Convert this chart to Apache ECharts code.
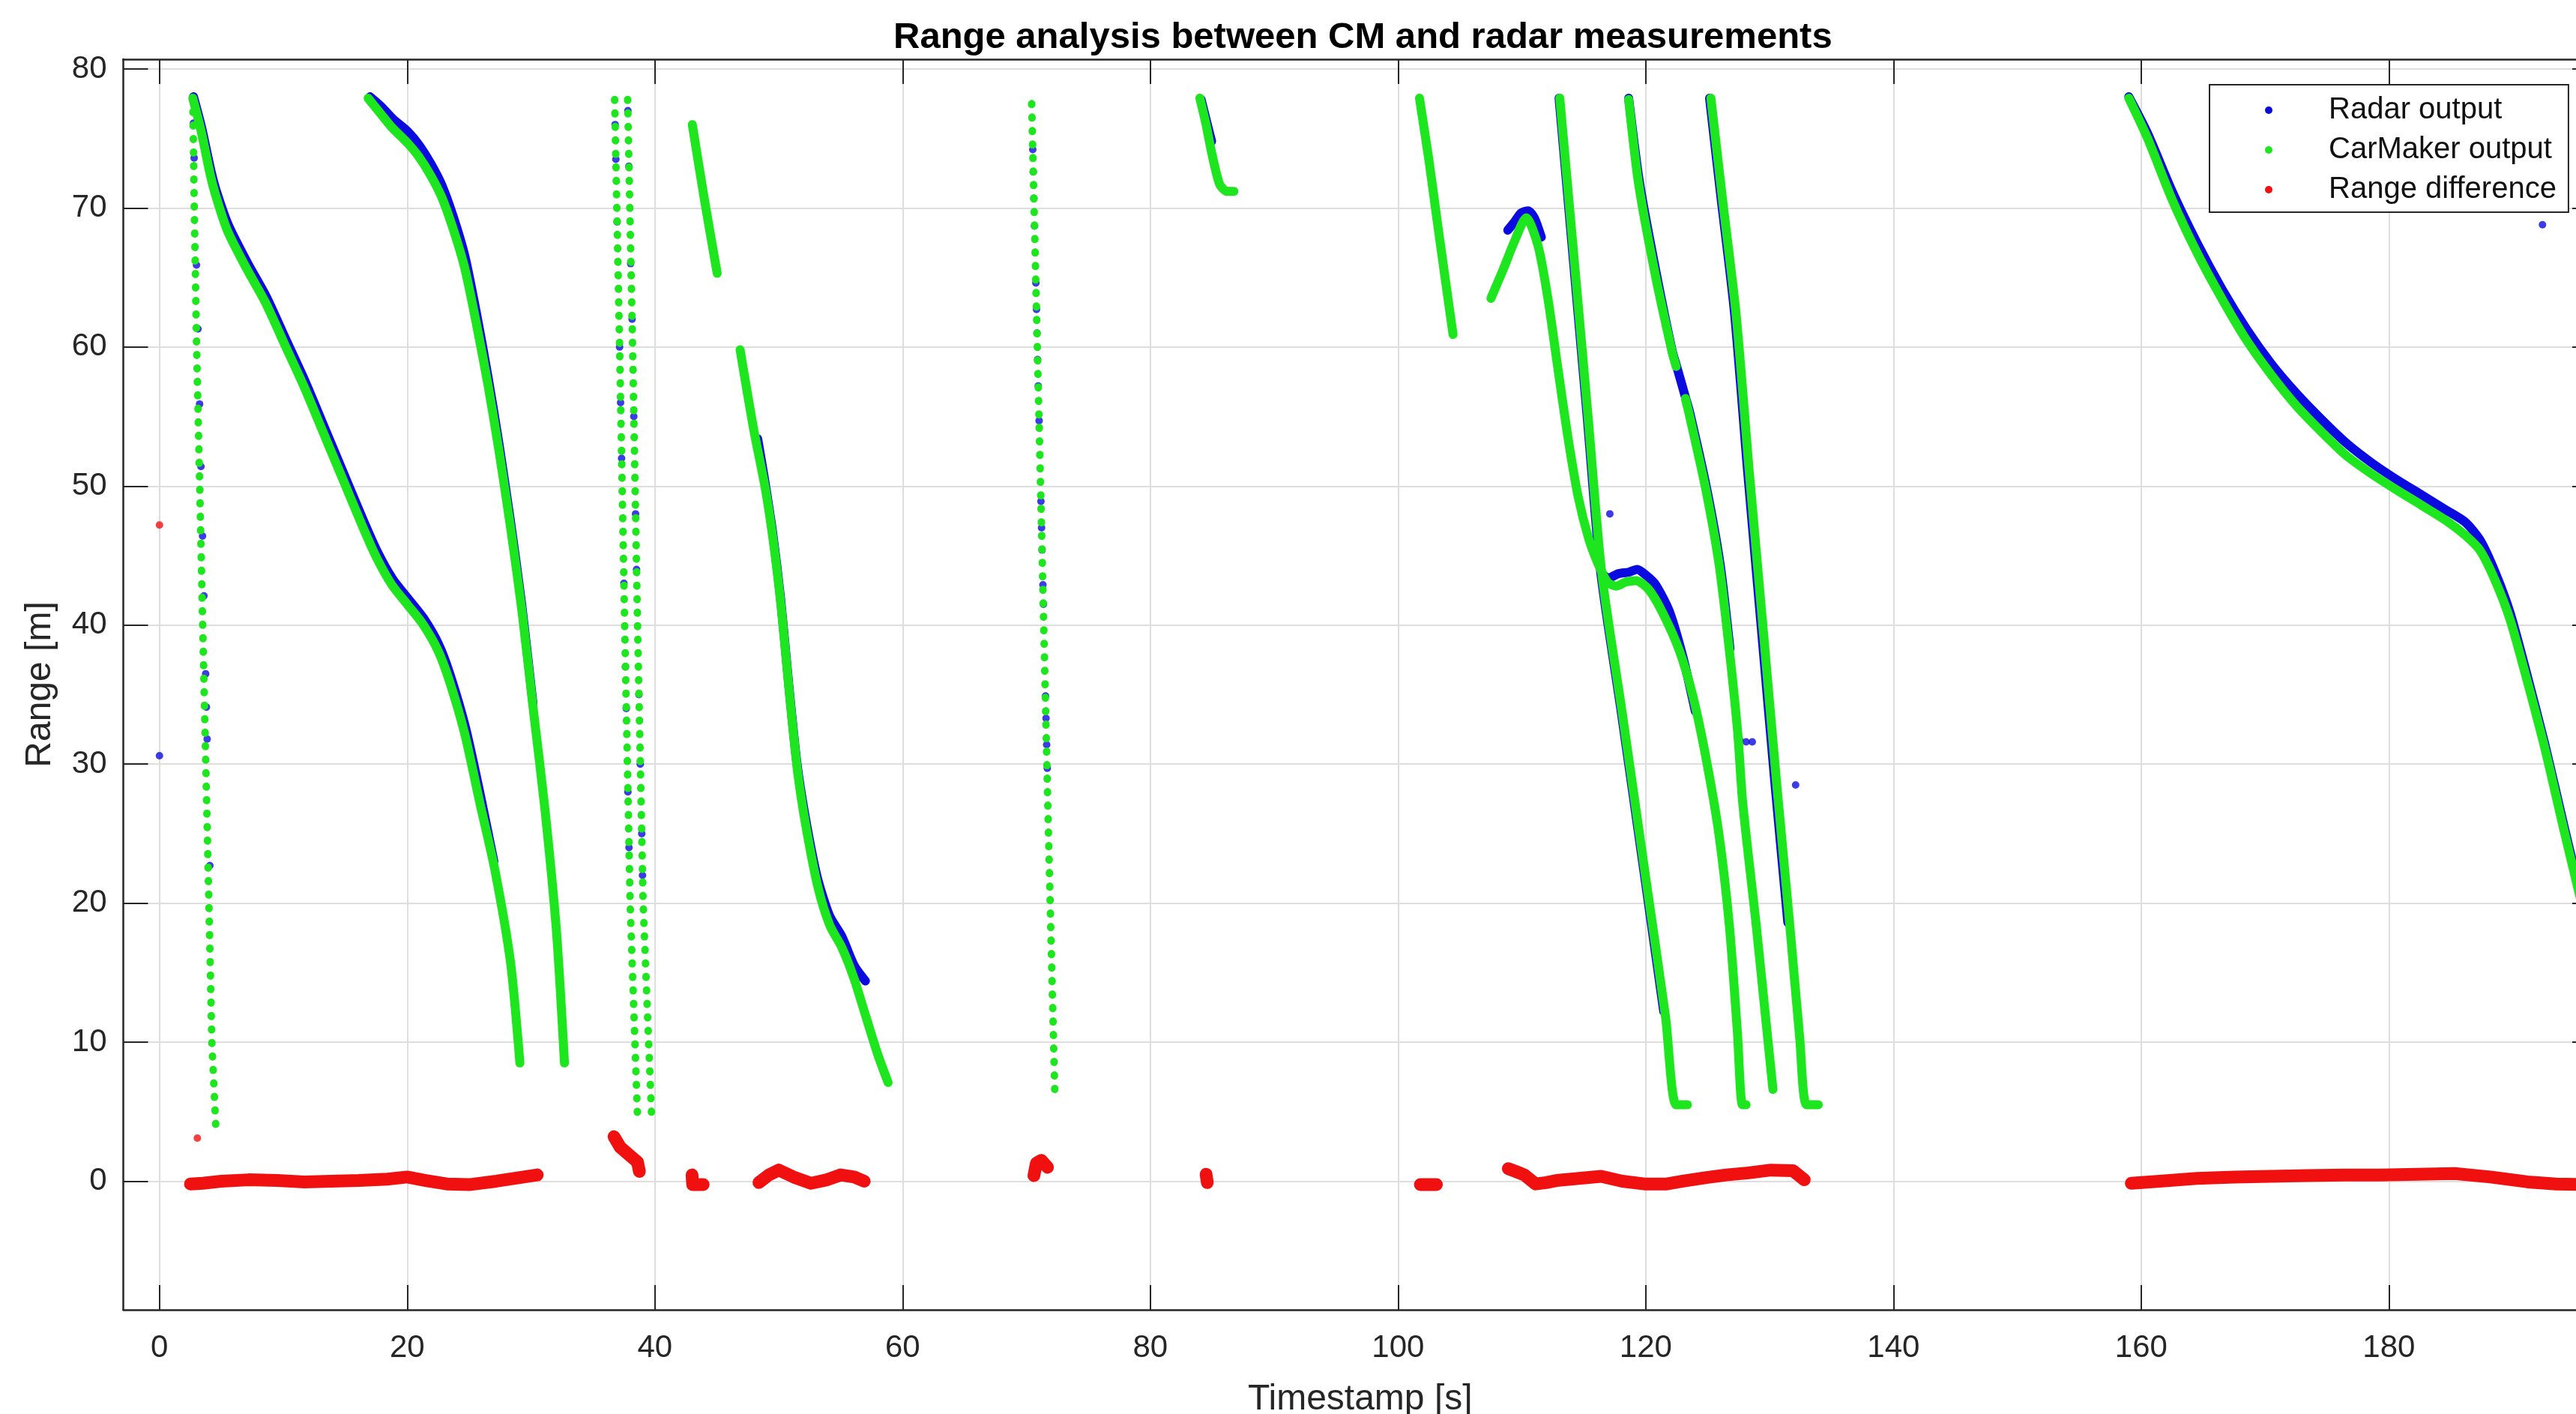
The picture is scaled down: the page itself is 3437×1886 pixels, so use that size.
<!DOCTYPE html>
<html>
<head>
<meta charset="utf-8">
<title>Range analysis between CM and radar measurements</title>
<script src="https://cdn.jsdelivr.net/npm/echarts@6/dist/echarts.min.js"></script>
<style>
  html, body { margin: 0; padding: 0; background: #fff; }
  #chart { width: 3437px; height: 1886px; }
</style>
</head>
<body>
<div id="chart"></div>
<script>
// tick labels
var xTicks = [0, 20, 40, 60, 80, 100, 120, 140, 160, 180];
var yTicks = [0, 10, 20, 30, 40, 50, 60, 70, 80];

// CarMaker output (green), one array per track, [time s, range m]
var cmDot1 = [[2.69, 77.9], [2.81, 70], [3.0, 60], [3.25, 50], [3.49, 40], [3.74, 30], [3.99, 20], [4.23, 10], [4.54, 4.1]];
var cm2 = [[2.69, 77.9], [3.35, 75.6], [4.1, 72.4], [4.54, 70.9], [5.47, 68.4], [7.0, 65.7], [8.56, 63.2], [10.1, 60.2],
  [11.65, 57.2], [13.2, 53.9], [14.75, 50.6], [16.3, 47.3], [17.5, 44.9], [18.76, 42.9], [20.0, 41.5], [21.24, 40.1],
  [22.47, 38.2], [23.4, 36.0], [24.64, 32.2], [25.87, 27.2], [27.1, 22.3], [28.35, 15.7], [29.1, 8.5]];
var cm3 = [[16.85, 77.9], [17.84, 76.8], [18.76, 75.8], [20.0, 74.7], [20.93, 73.7], [21.86, 72.4], [22.78, 70.8], [23.71, 68.5],
  [24.64, 65.7], [25.56, 61.8], [26.5, 57.4], [27.42, 52.5], [28.35, 47.0], [29.27, 41.0], [30.2, 33.8], [31.13, 26.7],
  [32.06, 17.9], [32.7, 8.5]];
var cmDot4 = [[36.75, 77.8], [37.15, 60], [37.56, 40], [38.0, 20], [38.6, 4.5]];
var cmDot5 = [[37.8, 77.8], [38.2, 60], [38.6, 40], [39.05, 20], [39.75, 4.3]];
var cm6 = [[43.02, 76.0], [44.0, 70.6], [45.03, 65.3]];
var cm7 = [[46.88, 59.8], [47.95, 54.2], [48.93, 49.75], [49.58, 45.9], [50.23, 41.0], [50.88, 34.9], [51.53, 29.4],
  [52.18, 25.6], [53.15, 21.2], [54.12, 18.4], [55.1, 16.8], [56.07, 14.6], [57.05, 11.8], [58.0, 9.1], [58.83, 7.1]];
var cmDot8 = [[70.42, 77.5], [70.8, 63], [71.17, 48.7], [71.75, 26], [72.3, 5.9]];
var cm9 = [[84.0, 77.9], [84.5, 76.0], [84.97, 73.9], [85.6, 71.7], [86.2, 71.2], [86.75, 71.2]];
var cm10 = [[101.73, 77.9], [102.5, 73.4], [103.17, 69.0], [104.44, 60.9]];
var cm11 = [[107.5, 63.5], [108.5, 65.6], [109.4, 67.6], [110.35, 69.3], [111.3, 67.3], [112.1, 63.5], [112.9, 58.5],
  [113.7, 53.6], [114.55, 49.2], [115.4, 46.2], [116.2, 44.3], [116.9, 43.1], [117.6, 42.8], [118.4, 43.1], [119.2, 43.2],
  [120.2, 42.6], [121.3, 41.0], [122.7, 38.2], [123.8, 34.9], [124.85, 30.5], [125.9, 25.0], [126.75, 18.4], [127.4, 10.7],
  [127.8, 5.5], [128.1, 5.5]];
var cmA = [[113.06, 77.9], [114.28, 65.7], [115.37, 54.7], [116.45, 43.7], [118.08, 33.8], [119.97, 22.0], [121.6, 11.8],
  [122.45, 5.5], [123.36, 5.5]];
var cmB1 = [[118.62, 77.8], [119.43, 71.7], [120.79, 65.1], [122.14, 59.6], [122.45, 58.6]];
var cmB2 = [[123.2, 56.3], [123.5, 55.2], [124.85, 49.75], [125.93, 44.3], [126.75, 38.2], [127.43, 32.2], [127.83, 27.2],
  [128.92, 18.4], [129.73, 11.3], [130.27, 6.6]];
var cmC = [[125.26, 77.9], [126.2, 70.6], [127.29, 62.4], [128.37, 50.9], [129.46, 39.9], [130.54, 28.9], [131.63, 18.4],
  [132.44, 10.2], [132.98, 5.5], [133.93, 5.5]];
var cm12 = [[159.0, 77.9], [160.52, 75.0], [162.5, 70.6], [164.5, 66.8], [166.5, 63.5], [168.5, 60.5], [170.5, 58.0],
  [172.5, 55.8], [174.55, 53.9], [176.55, 52.2], [178.56, 50.9], [180.56, 49.75], [182.57, 48.65], [184.57, 47.55],
  [186.17, 46.45], [187.37, 45.35], [188.58, 43.2], [189.78, 40.4], [190.98, 36.6], [192.6, 31.1], [194.2, 25.0], [196.5, 16.5]];

// Radar output (blue)
var radar2 = [[2.75, 78.0], [3.4, 75.8], [4.15, 72.7], [4.6, 71.2], [5.55, 68.8], [7.08, 66.1], [8.64, 63.6], [10.18, 60.6],
  [11.73, 57.6], [13.28, 54.3], [14.83, 51.0], [16.38, 47.7], [17.58, 45.3], [18.84, 43.3], [20.08, 41.9], [21.32, 40.5],
  [22.55, 38.6], [23.48, 36.4], [24.72, 32.6], [25.95, 27.6], [27.0, 23.0]];
var radar3 = [[17.0, 78.0], [17.9, 77.3], [18.85, 76.4], [20.05, 75.5], [20.98, 74.5], [21.9, 73.2], [22.82, 71.6], [23.75, 69.3],
  [24.67, 66.5], [25.58, 62.5], [26.5, 58.0], [27.4, 53.1], [28.32, 47.6], [29.23, 41.6], [30.15, 34.4]];
var radar7 = [[48.3, 53.4], [48.85, 50.5], [49.5, 46.7], [50.15, 41.9], [50.8, 35.8], [51.45, 30.2], [52.12, 26.3],
  [53.1, 21.9], [54.1, 19.1], [55.1, 17.6], [56.1, 15.5], [57.0, 14.4]];
var radar9 = [[84.1, 77.8], [84.55, 76.2], [84.95, 74.8]];
var radar11h = [[108.86, 68.4], [109.4, 69.0], [109.95, 69.65], [110.5, 69.8], [111.0, 69.3], [111.57, 67.9]];
var radar11p = [[116.45, 43.7], [117.0, 43.4], [117.8, 43.7], [118.6, 43.8], [119.3, 44.0], [120.0, 43.6], [120.8, 42.9],
  [121.9, 41.0], [123.0, 37.7], [124.0, 33.8]];
var radarA = [[113.0, 77.9], [114.2, 65.8], [115.28, 54.9], [116.35, 43.9], [117.98, 34.0], [119.85, 22.3], [121.45, 12.2]];
var radarB = [[118.62, 77.9], [119.5, 71.8], [120.85, 65.3], [122.14, 59.7], [122.5, 58.6], [123.2, 56.4], [123.55, 55.3],
  [124.9, 49.9], [126.0, 44.4], [126.8, 38.3]];
var radarC = [[125.15, 77.9], [126.08, 70.7], [127.15, 62.6], [128.22, 51.1], [129.3, 40.1], [130.38, 29.1], [131.47, 18.6]];
var radar12 = [[159.0, 78.0], [160.5, 75.4], [162.5, 71.2], [164.5, 67.5], [166.5, 64.2], [168.5, 61.3], [170.5, 58.8],
  [172.5, 56.7], [174.55, 54.8], [176.55, 53.1], [178.56, 51.7], [180.56, 50.5], [182.57, 49.4], [184.57, 48.3],
  [186.17, 47.4], [187.37, 46.1], [188.58, 43.8], [189.78, 40.9], [190.98, 37.0], [192.6, 31.4], [194.2, 25.3], [196.5, 16.8]];
var radarDots = [[0, 30.6], [117.1, 48.0], [132.1, 28.5], [192.4, 68.8], [127.6, 31.7], [128.1, 31.6], [128.6, 31.6], [127.7, 28.0],
  [2.74, 76.1], [2.80, 73.6], [2.99, 65.9], [3.11, 61.3], [3.24, 55.9], [3.35, 51.4], [3.48, 46.4], [3.59, 42.1],
  [3.73, 36.5], [3.79, 34.1], [3.85, 31.8], [4.07, 22.7],
  [36.79, 76], [36.85, 73.5], [36.95, 69], [37.15, 60], [37.23, 56], [37.31, 52], [37.5, 43], [37.62, 37], [37.69, 34],
  [37.82, 28], [37.91, 24],
  [37.82, 77], [37.9, 73], [38.04, 66], [38.16, 62], [38.3, 55], [38.44, 48], [38.52, 44], [38.71, 35], [38.82, 30],
  [38.94, 25], [39.0, 22],
  [70.51, 74.2], [70.55, 72.6], [70.6, 70.7], [70.65, 68.7], [70.76, 64.6], [70.81, 62.7], [70.85, 61.0], [70.9, 59.1],
  [70.95, 57.2], [71.02, 54.7], [71.17, 48.9], [71.22, 47.0], [71.26, 45.4], [71.33, 42.9], [71.37, 41.5], [71.54, 34.9],
  [71.58, 33.3], [71.63, 31.4], [71.68, 29.7]];

// Range difference (red)
var diff1 = [[2.5, -0.2], [3.5, -0.15], [5.0, 0.0], [7.2, 0.1], [9.5, 0.05], [11.7, -0.05], [13.9, 0.0], [16.1, 0.05],
  [18.4, 0.15], [20.0, 0.3], [21.5, 0.05], [23.2, -0.2], [25.0, -0.25], [27.2, 0.0], [29.0, 0.25], [30.5, 0.45]];
var diff2 = [[36.7, 3.2], [37.2, 2.45], [37.9, 1.9], [38.6, 1.37], [38.75, 0.7]];
var diff3 = [[43.0, 0.45], [43.05, -0.25], [43.9, -0.25]];
var diff4 = [[48.4, -0.1], [49.2, 0.45], [50.0, 0.8], [51.2, 0.3], [52.6, -0.15], [53.9, 0.1], [55.0, 0.45], [56.1, 0.3], [56.9, 0.0]];
var diff5 = [[70.6, 0.4], [70.8, 1.3], [71.2, 1.5], [71.7, 1.0]];
var diff6 = [[84.5, 0.5], [84.6, -0.1]];
var diff7 = [[101.8, -0.25], [103.1, -0.25]];
var diff8 = [[108.9, 0.9], [109.5, 0.7], [110.2, 0.45], [111.1, -0.2], [111.95, -0.1], [112.8, 0.05], [114.6, 0.2],
  [116.4, 0.35], [118.1, 0.0], [119.9, -0.2], [121.7, -0.2], [123.0, 0.0], [124.8, 0.25], [126.5, 0.45], [128.3, 0.6],
  [130.1, 0.8], [131.9, 0.75], [132.8, 0.1]];
var diff9 = [[159.2, -0.15], [161.5, 0.0], [164.5, 0.2], [167.5, 0.3], [170.4, 0.35], [173.4, 0.4], [176.4, 0.45],
  [179.3, 0.45], [182.3, 0.5], [185.3, 0.55], [188.2, 0.3], [191.2, -0.05], [193.5, -0.2], [196.5, -0.25]];
var diffDots = [[0, 47.2], [3.06, 3.1]];

var FONT = '"Liberation Sans", Arial, Helvetica, sans-serif';
var AXIS = '#262626';
var BLUE = '#0b0be0', GREEN = '#1ee61e', RED = '#f01010';
var RADAR = 'Radar output', CM = 'CarMaker output', DIFF = 'Range difference';

function track(name, data, color, width, smooth) {
  return {
    type: 'line', name: name, data: data, symbol: 'none', showSymbol: false,
    smooth: smooth ? 0.25 : false, silent: true,
    itemStyle: { color: color },
    lineStyle: { color: color, width: width, cap: 'round', join: 'round' }
  };
}
function dotted(name, data, color) {
  var s = track(name, data, color, 10, false);
  s.lineStyle.type = [1, 17];
  return s;
}
function dots(name, data, color) {
  return { type: 'scatter', name: name, data: data, symbol: 'circle', symbolSize: 10, silent: true, itemStyle: { color: color } };
}

var series = [];
// radar first, carmaker on top, as in the original plot order
[radar2, radar3, radar7, radar9, radar11h, radar11p, radarA, radarB, radarC, radar12].forEach(function (d) {
  series.push(track(RADAR, d, BLUE, 12, true));
});
[cm2, cm3, cm6, cm7, cm9, cm10, cm11, cmA, cmB1, cmB2, cmC, cm12].forEach(function (d) {
  series.push(track(CM, d, GREEN, 12, true));
});
[cmDot1, cmDot4, cmDot5, cmDot8].forEach(function (d) {
  series.push(dotted(CM, d, GREEN));
});
series.push(dots(RADAR, radarDots, BLUE));
[diff1, diff2, diff3, diff4, diff5, diff6, diff7, diff8, diff9].forEach(function (d) {
  series.push(track(DIFF, d, RED, 17, false));
});
series.push(dots(DIFF, diffDots, RED));

function axisBase(min, max, ticks, pos) {
  return {
    type: 'value', min: min, max: max, position: pos,
    axisLine: { show: true, onZero: false, lineStyle: { color: AXIS, width: 2.5 } },
    axisTick: { show: true, inside: true, length: 33, customValues: ticks, lineStyle: { color: AXIS, width: 2 } },
    axisLabel: { show: false },
    splitLine: { show: false }
  };
}

var xMain = axisBase(-2.92, 196.8, xTicks, 'bottom');
xMain.axisLabel = { show: true, customValues: xTicks, fontSize: 42, color: AXIS, fontFamily: FONT, margin: 30 };
xMain.splitLine = { show: true, lineStyle: { color: '#dedede', width: 2 } };
xMain.name = 'Timestamp [s]';
xMain.nameLocation = 'middle';
xMain.nameGap = 96;
xMain.nameTextStyle = { fontSize: 48, color: AXIS, fontFamily: FONT };

var yMain = axisBase(-9.25, 80.7, yTicks, 'left');
yMain.axisLabel = { show: true, customValues: yTicks, fontSize: 42, color: AXIS, fontFamily: FONT, margin: 22 };
yMain.splitLine = { show: true, lineStyle: { color: '#dedede', width: 2 } };
yMain.name = 'Range [m]';
yMain.nameLocation = 'middle';
yMain.nameGap = 87;
yMain.nameRotate = 90;
yMain.nameTextStyle = { fontSize: 48, color: AXIS, fontFamily: FONT };

var chart = echarts.init(document.getElementById('chart'), null, { renderer: 'canvas' });
chart.setOption({
  backgroundColor: '#ffffff',
  animation: false,
  title: {
    text: 'Range analysis between CM and radar measurements',
    left: 1187, top: 21,
    textStyle: { fontSize: 49, fontWeight: 'bold', color: '#000', fontFamily: FONT }
  },
  legend: {
    orient: 'vertical', left: 2948, top: 113,
    padding: [12, 16, 8, 74], itemGap: 9, itemWidth: 10, itemHeight: 10,
    backgroundColor: '#fff', borderColor: AXIS, borderWidth: 2, borderRadius: 0,
    selectedMode: false,
    data: [
      { name: RADAR, icon: 'circle', itemStyle: { color: BLUE } },
      { name: CM, icon: 'circle', itemStyle: { color: GREEN } },
      { name: DIFF, icon: 'circle', itemStyle: { color: RED } }
    ],
    formatter: function (name) { return '{s| }' + name; },
    textStyle: { fontSize: 40, lineHeight: 44, color: '#111', fontFamily: FONT, rich: { s: { width: 70 } } }
  },
  grid: { left: 164.5, top: 79, right: -28, bottom: 139, containLabel: false, outerBoundsMode: 'none' },
  xAxis: [xMain, axisBase(-2.92, 196.8, xTicks, 'top')],
  yAxis: [yMain, axisBase(-9.25, 80.7, yTicks, 'right')],
  series: series
});
</script>
</body>
</html>
